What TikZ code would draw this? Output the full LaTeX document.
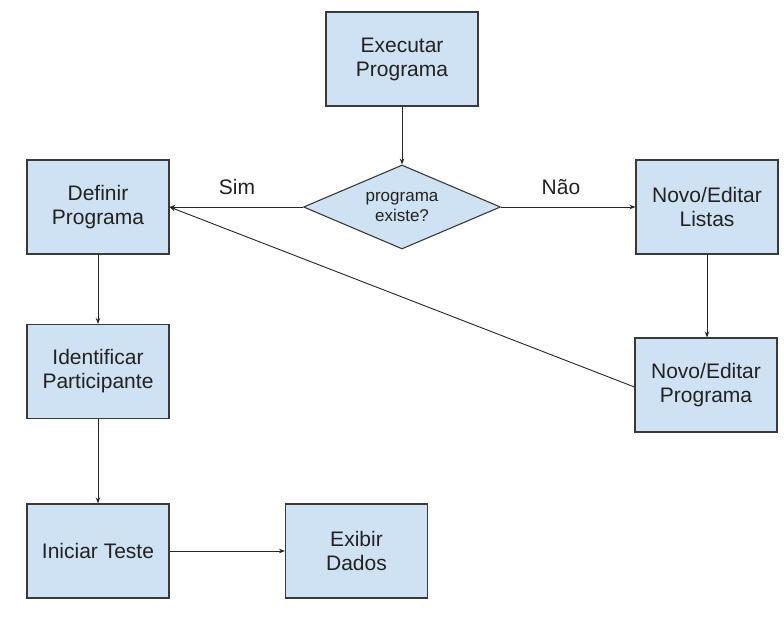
\documentclass[tikz,border=0pt]{standalone}
\usepackage{fontspec}
\setmainfont{Liberation Sans}
\usetikzlibrary{shapes.geometric,arrows.meta}
\definecolor{boxfill}{HTML}{CFE2F3}
\definecolor{boxline}{HTML}{3A3A3A}
\definecolor{txt}{HTML}{222222}
\begin{document}
\begin{tikzpicture}[x=1pt,y=-1pt,
  procbox/.style={draw=boxline,fill=boxfill,line width=1.1pt,minimum width=142pt,minimum height=94pt,inner sep=0pt,align=center,text=txt,font=\fontsize{21}{24}\selectfont},
  decbox/.style={diamond,draw=boxline,fill=boxfill,line width=1.1pt,minimum width=197pt,minimum height=84pt,aspect=2.35,inner sep=0pt,align=center,text=txt,font=\fontsize{17}{20}\selectfont},
  conn/.style={draw=black!85,line width=0.9pt,-{Stealth[length=6pt,width=4.5pt]}},
  lbl/.style={text=txt,font=\fontsize{21}{24}\selectfont,inner sep=0pt}]
\useasboundingbox (0,0) rectangle (784,618);
\node[procbox,minimum width=152pt] (exec) at (402,59) {Executar\\Programa};
\node[decbox] (dec) at (402,207) {programa\\existe?};
\node[procbox] (def) at (98,207) {Definir\\Programa};
\node[procbox] (lis) at (707,207) {Novo/Editar\\Listas};
\node[procbox] (nprog) at (706,385) {Novo/Editar\\Programa};
\node[procbox] (ident) at (98,371.5) {Identificar\\Participante};
\node[procbox] (ini) at (98,551) {Iniciar Teste};
\node[procbox] (exib) at (356.5,551) {Exibir\\Dados};
\node[lbl] (sim) at (237,187) {Sim};
\node[lbl] (nao) at (561,187) {Não};
\coordinate (defin) at (def.east);
\draw[conn] (exec.south) -- (dec.north);
\draw[conn] (dec.west) -- (defin);
\draw[conn] (dec.east) -- (lis.west);
\draw[conn] (lis.south) -- (lis.south |- nprog.north);
\draw[conn] (nprog.west) ++(0,2) -- (defin);
\draw[conn] (def.south) -- (ident.north);
\draw[conn] (ident.south) -- (ini.north);
\draw[conn] (ini.east) -- (exib.west);
\end{tikzpicture}
\end{document}
